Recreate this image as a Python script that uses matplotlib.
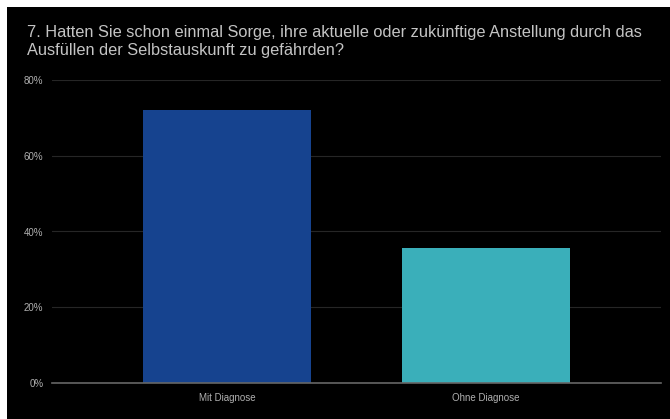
import matplotlib.pyplot as plt
from matplotlib.patches import Rectangle
from matplotlib.ticker import PercentFormatter

plt.rcParams['font.family'] = ['Liberation Sans', 'DejaVu Sans']

categories = ['Mit Diagnose', 'Ohne Diagnose']
values = [72, 35.7]
bar_colors = ['#16438f', '#3aafba']
title_lines = ['7. Hatten Sie schon einmal Sorge, ihre aktuelle oder zukünftige Anstellung durch das',
               'Ausfüllen der Selbstauskunft zu gefährden?']

fig = plt.figure(figsize=(6.7, 4.19), dpi=100, facecolor='black')
# thin white border at top and left of the screenshot
fig.patches.append(Rectangle((0, 1 - 7 / 419), 1, 7 / 419, transform=fig.transFigure,
                             facecolor='white', edgecolor='none'))
fig.patches.append(Rectangle((0, 0), 7 / 670, 1, transform=fig.transFigure,
                             facecolor='white', edgecolor='none'))

ax = fig.add_axes([51.7 / 670, 36 / 419, 609 / 670, 303 / 419])
ax.set_facecolor('black')
ax.bar(range(len(categories)), values, width=0.649, color=bar_colors, zorder=3)
ax.set_xlim(-0.677, 1.675)
ax.set_ylim(0, 80)
ax.set_yticks([0, 20, 40, 60, 80])
ax.yaxis.set_major_formatter(PercentFormatter(decimals=0))
ax.set_xticks(range(len(categories)))
ax.set_xticklabels(categories)
ax.tick_params(axis='both', length=0, labelsize=7, colors='#b0b0b0')
ax.tick_params(axis='y', pad=6)
ax.tick_params(axis='x', pad=7)
ax.grid(axis='y', color='#262626', linewidth=0.8, zorder=0)
for side in ['top', 'right', 'left']:
    ax.spines[side].set_visible(False)
ax.spines['bottom'].set_color('#666666')
ax.spines['bottom'].set_linewidth(1.2)
ax.spines['bottom'].set_zorder(4)

# title in two lines, baselines placed like the reference
for i, line in enumerate(title_lines):
    fig.text(27 / 670, 1 - (37.5 + 17.5 * i) / 419, line, fontsize=11.8, color='#c4c4c4',
             ha='left', va='baseline')

fig.savefig('out.png', dpi=100, facecolor=fig.get_facecolor())
